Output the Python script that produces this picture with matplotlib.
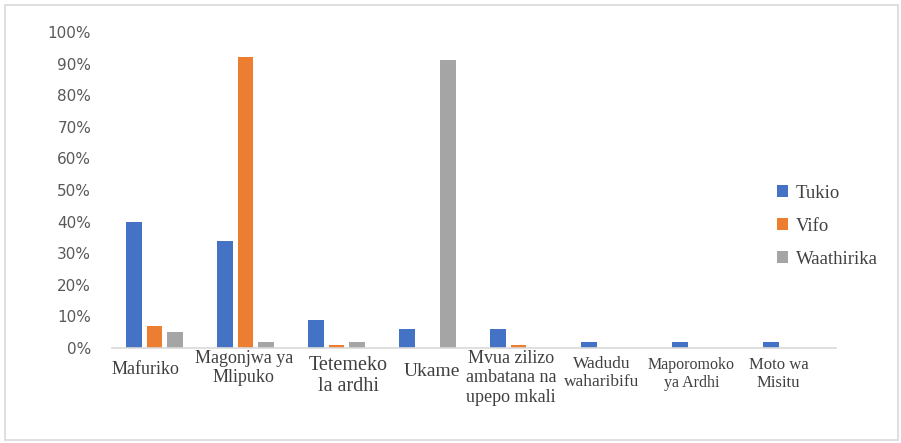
"""
Bar chart: Tukio / Vifo / Waathirika by disaster type
"""
import numpy as np
from matplotlib import pyplot as plt
from matplotlib.patches import Rectangle
from matplotlib.ticker import PercentFormatter

categories = [
    "Mafuriko",
    "Magonjwa ya\nMlipuko",
    "Tetemeko\nla ardhi",
    "Ukame",
    "Mvua zilizo\nambatana na\nupepo mkali",
    "Wadudu\nwaharibifu",
    "Maporomoko\nya Ardhi",
    "Moto wa\nMisitu",
]
tukio = [0.40, 0.34, 0.09, 0.06, 0.06, 0.02, 0.02, 0.02]
vifo = [0.07, 0.92, 0.01, 0.0, 0.01, 0.0, 0.0, 0.0]
waathirika = [0.05, 0.02, 0.02, 0.91, 0.0, 0.0, 0.0, 0.0]
series_labels = ["Tukio", "Vifo", "Waathirika"]

colors = ["#4472C4", "#ED7D31", "#A5A5A5"]
# label styling (font size, vertical centre in px below the top of the image)
label_sizes = [13, 13, 14.5, 14, 13, 12.5, 11.5, 12]
label_ypx = [370, 368, 376, 371, 378, 373, 374, 374]
label_dx = [-0.1, -0.02, 0.13, 0.05, -0.08, -0.09, -0.1, -0.14]

fig = plt.figure(figsize=(9.01, 4.43), dpi=100)
fig.patches.append(Rectangle((5 / 901, 3 / 443), 893 / 901, 435 / 443,
                             transform=fig.transFigure, fill=False,
                             edgecolor="#d9d9d9", linewidth=1.2))
ax = fig.add_axes([112 / 901, 1 - 348 / 443, 724 / 901, 316 / 443])

x = np.arange(len(categories))
width = 0.17
step = 0.226
for k, (values, label) in enumerate(zip([tukio, vifo, waathirika], series_labels)):
    ax.bar(x + (k - 1) * step, values, width=width, color=colors[k], label=label)

ax.set_xlim(-0.467, 7.49)
ax.set_ylim(0, 1.0)
ax.set_yticks(np.arange(0, 1.01, 0.1))
ax.yaxis.set_major_formatter(PercentFormatter(1.0, decimals=0))
ax.tick_params(axis="y", length=0, pad=15, labelsize=11, labelcolor="#595959")
ax.tick_params(axis="x", length=0, labelbottom=False)
for side in ["left", "right", "top"]:
    ax.spines[side].set_visible(False)
ax.spines["bottom"].set_color("#d9d9d9")
ax.spines["bottom"].set_linewidth(1.2)

# category labels below the axis (serif)
for i, cat in enumerate(categories):
    ax.text(i + label_dx[i], (348 - label_ypx[i]) / 316, cat,
            transform=ax.get_xaxis_transform(),
            ha="center", va="center", family="Liberation Serif",
            fontsize=label_sizes[i], color="#404040", linespacing=1.2)

leg = ax.legend(loc="upper left", bbox_to_anchor=(760 / 901, 1 - 168 / 443),
                bbox_transform=fig.transFigure, frameon=False,
                prop={"family": "Liberation Serif", "size": 13.5},
                handlelength=0.6, handleheight=0.6, handletextpad=0.4,
                labelspacing=0.85)
for text in leg.get_texts():
    text.set_color("#404040")

fig.savefig("out.png", dpi=100)
